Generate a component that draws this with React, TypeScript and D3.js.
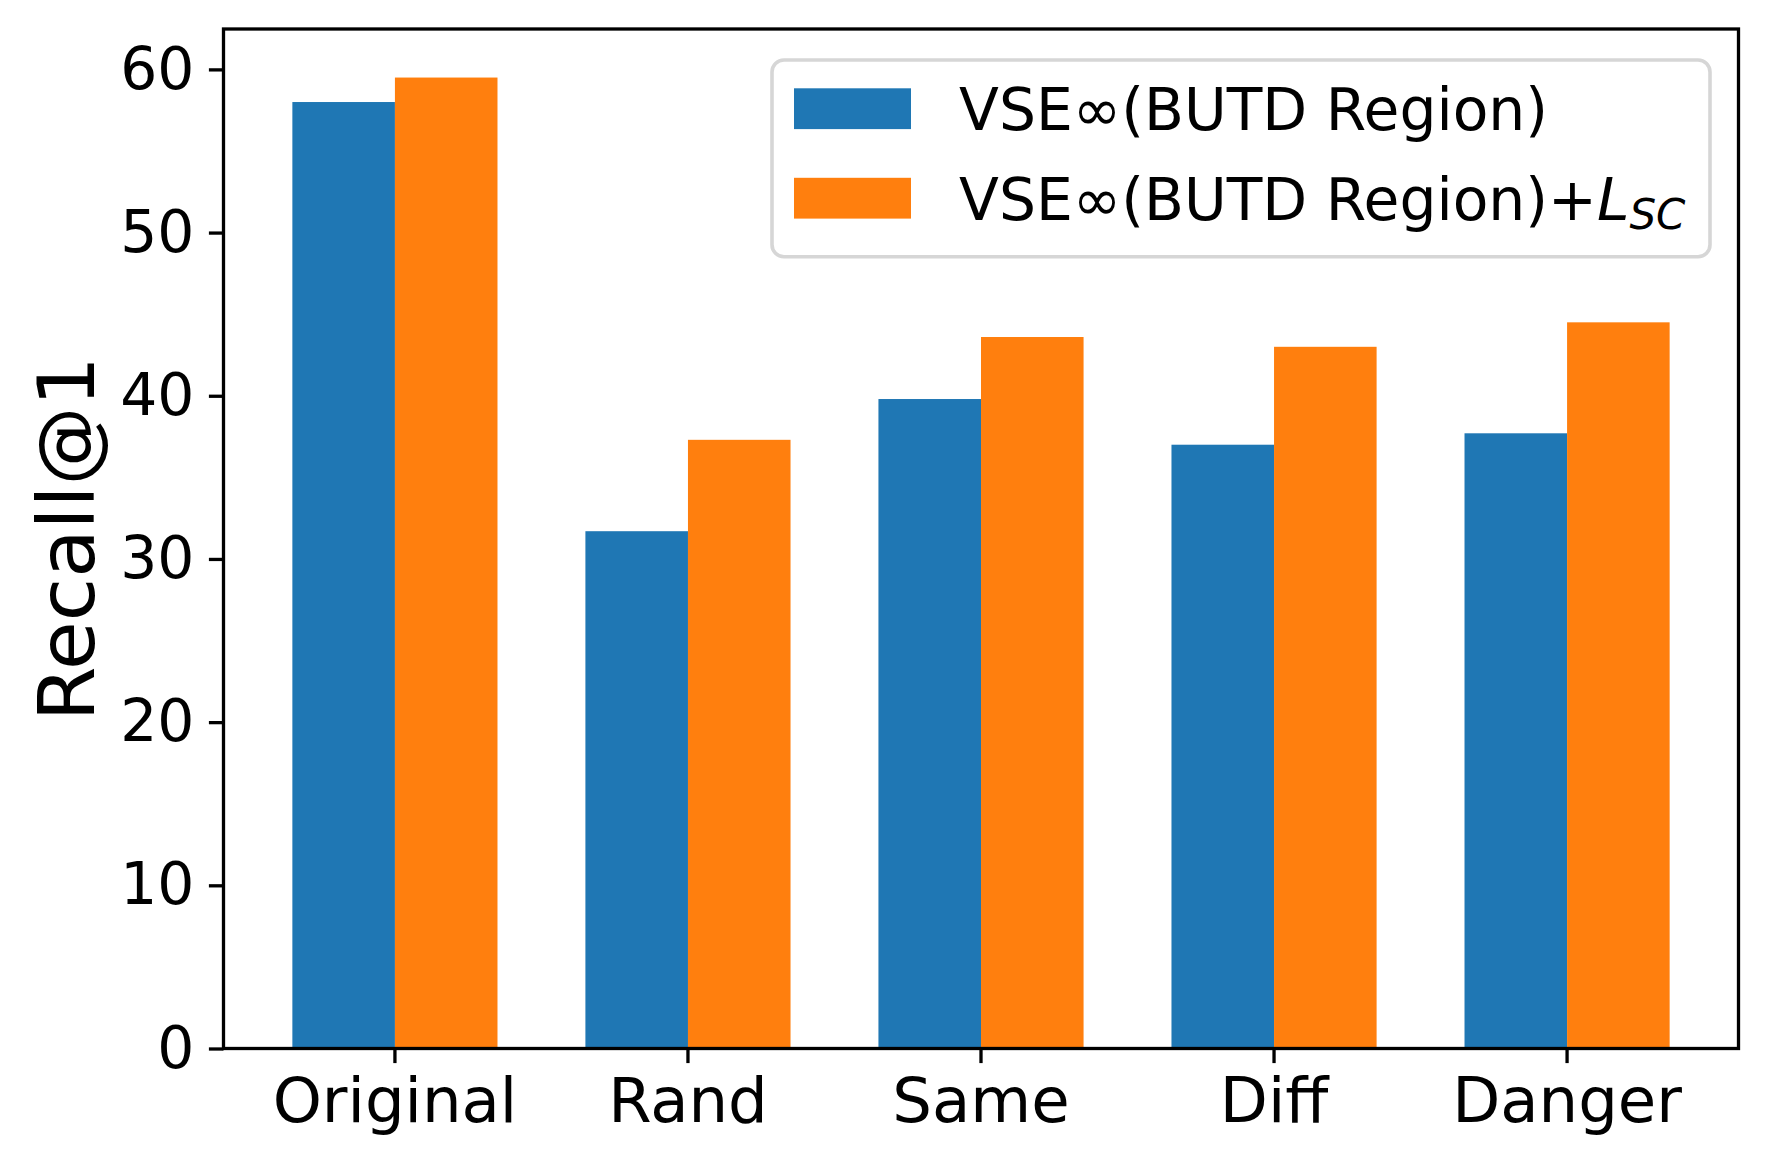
import * as d3 from "d3";
import { useEffect, useRef } from "react";

// -----------------------------
// Data
const categories = ["Original", "Rand", "Same", "Diff", "Danger"];
const seriesNames = ["base", "sc"];
const baseValues = [58.0, 31.7, 39.8, 37.0, 37.7];
const scValues = [59.5, 37.3, 43.6, 43.0, 44.5];
const yTicks = [0, 10, 20, 30, 40, 50, 60];
const colors = ["#1f77b4", "#ff7f0e"];

export default function App() {
  const ref = useRef<HTMLDivElement>(null);

  useEffect(() => {
    if (!ref.current) return;
    document.body.style.margin = "0";

    const width = 1768;
    const height = 1167;
    const plot = { left: 223.5, right: 1738.5, top: 29, bottom: 1048.5 };
    const font = "DejaVu Sans, Verdana, sans-serif";
    const lw = 3.3;

    ref.current.innerHTML = "";
    const svg = d3
      .select(ref.current)
      .append("svg")
      .attr("width", width)
      .attr("height", height)
      .style("display", "block")
      .style("background", "white");

    const x0 = d3
      .scaleBand<string>()
      .domain(categories)
      .range([plot.left, plot.right])
      .paddingInner(0.3)
      .paddingOuter(0.235);

    const x1 = d3
      .scaleBand<string>()
      .domain(seriesNames)
      .range([0, x0.bandwidth()]);

    const yMax = d3.max([...baseValues, ...scValues])! * 1.05;
    const y = d3.scaleLinear().domain([0, yMax]).range([plot.bottom, plot.top]);

    const rows = categories.map((c, i) => ({
      cat: c,
      vals: [
        { key: "base", v: baseValues[i], color: colors[0] },
        { key: "sc", v: scValues[i], color: colors[1] },
      ],
    }));

    // -----------------------------
    // Bars
    const groups = svg
      .append("g")
      .selectAll("g")
      .data(rows)
      .join("g")
      .attr("transform", (d) => `translate(${x0(d.cat)},0)`);

    groups
      .selectAll("rect")
      .data((d) => d.vals)
      .join("rect")
      .attr("x", (d) => x1(d.key)!)
      .attr("width", x1.bandwidth())
      .attr("y", (d) => y(d.v))
      .attr("height", (d) => y(0) - y(d.v))
      .attr("fill", (d) => d.color);

    // -----------------------------
    // Axes
    const tickLen = 14.6;
    const xAxis = svg
      .append("g")
      .attr("transform", `translate(0,${plot.bottom})`)
      .call(
        d3
          .axisBottom(x0)
          .tickSize(tickLen)
          .tickPadding(tickLen)
      );
    xAxis.select(".domain").remove();
    xAxis.selectAll("line").attr("stroke", "#000").attr("stroke-width", lw);
    xAxis
      .selectAll("text")
      .attr("fill", "#000")
      .style("font-size", "62.5px")
      .style("font-family", font);

    const yAxis = svg
      .append("g")
      .attr("transform", `translate(${plot.left},0)`)
      .call(
        d3
          .axisLeft(y)
          .tickValues(yTicks)
          .tickSize(tickLen)
          .tickPadding(tickLen)
      );
    yAxis.select(".domain").remove();
    yAxis.selectAll("line").attr("stroke", "#000").attr("stroke-width", lw);
    yAxis
      .selectAll("text")
      .attr("fill", "#000")
      .style("font-size", "58.3px")
      .style("font-family", font);

    // Spines
    svg
      .append("rect")
      .attr("x", plot.left)
      .attr("y", plot.top)
      .attr("width", plot.right - plot.left)
      .attr("height", plot.bottom - plot.top)
      .attr("fill", "none")
      .attr("stroke", "#000")
      .attr("stroke-width", lw);

    // Y title
    svg
      .append("text")
      .attr(
        "transform",
        `translate(94,${(plot.top + plot.bottom) / 2}) rotate(-90)`
      )
      .attr("text-anchor", "middle")
      .style("font-size", "79px")
      .style("font-family", font)
      .attr("fill", "#000")
      .text("Recall@1");

    // -----------------------------
    // Legend
    const legend = svg.append("g");
    legend
      .append("rect")
      .attr("x", 772)
      .attr("y", 60)
      .attr("width", 1710 - 772)
      .attr("height", 256.7 - 60)
      .attr("rx", 12)
      .attr("fill", "white")
      .attr("stroke", "#d6d6d6")
      .attr("stroke-width", 3.6);

    const rowGap = 89.5;
    const legendRows = legend
      .selectAll(".legend-row")
      .data(colors)
      .join("g")
      .attr("class", "legend-row")
      .attr("transform", (_d, i) => `translate(0,${i * rowGap})`);

    legendRows
      .append("rect")
      .attr("x", 794)
      .attr("y", 88.3)
      .attr("width", 117)
      .attr("height", 40.8)
      .attr("fill", (d) => d);

    const labels = legendRows
      .append("text")
      .attr("x", 959)
      .attr("y", 130)
      .style("font-size", "58.3px")
      .style("font-family", font)
      .attr("fill", "#000");

    labels.filter((_d, i) => i === 0).text("VSE∞(BUTD Region)");

    const second = labels.filter((_d, i) => i === 1);
    second.append("tspan").text("VSE∞(BUTD Region)+");
    second.append("tspan").style("font-style", "italic").text("L");
    second
      .append("tspan")
      .style("font-style", "italic")
      .style("font-size", "42px")
      .attr("dy", 9)
      .text("SC");
  }, []);

  return <div ref={ref} />;
}
